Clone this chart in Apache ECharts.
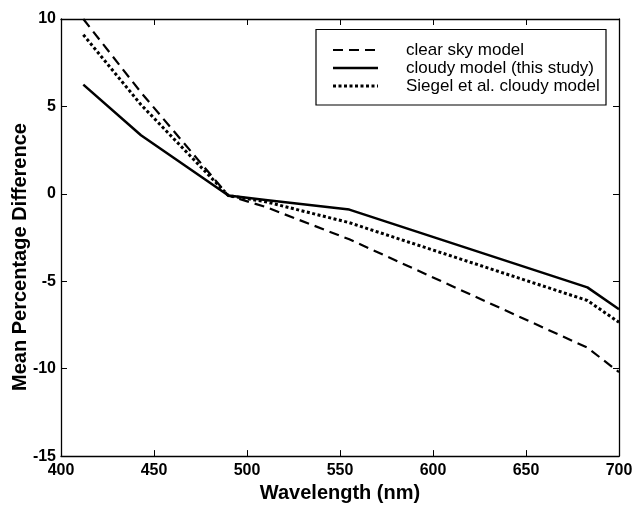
<!DOCTYPE html>
<html>
<head>
<meta charset="utf-8">
<script src="https://cdn.jsdelivr.net/npm/echarts@6/dist/echarts.min.js"></script>
<style>
  html, body { margin: 0; padding: 0; background: #fff; }
  #chart { width: 636px; height: 508px; }
</style>
</head>
<body>
<div id="chart"></div>
<script>
// Wavelength bands (nm) and mean percentage difference for each model
const wavelengths = [412, 443, 490, 510, 555, 683, 700];
const clearSky = [10.0, 5.8, -0.1, -0.75, -2.6, -8.8, -10.2];
const cloudyThisStudy = [6.25, 3.35, -0.1, -0.35, -0.9, -5.35, -6.6];
const siegelCloudy = [9.1, 5.1, -0.1, -0.45, -1.65, -6.1, -7.35];

const legendLabels = ['clear sky model', 'cloudy model (this study)', 'Siegel et al. cloudy model'];
const xTitle = 'Wavelength (nm)';
const yTitle = 'Mean Percentage Difference';

const FONT = '"Liberation Sans", Arial, Helvetica, sans-serif';
const pairs = (ys) => wavelengths.map((x, i) => [x, ys[i]]);

const chart = echarts.init(document.getElementById('chart'), null, { renderer: 'canvas' });

const boxAxis = {
  axisLine: { show: true, onZero: false, lineStyle: { color: '#000', width: 1.3 } },
  axisTick: { show: true, inside: true, length: 6, lineStyle: { color: '#000', width: 1 } },
  splitLine: { show: false }
};
const tickFont = { color: '#000', fontSize: 16, fontFamily: FONT, fontWeight: 'bold' };

const dashStyle = [10, 6];
const dotStyle = [3, 2.5];

const legendRows = [
  { y: 50, dash: dashStyle, width: 2.2 },
  { y: 68, dash: null, width: 2.5 },
  { y: 86, dash: dotStyle, width: 3 }
];

const graphics = [
  {
    type: 'rect',
    shape: { x: 316, y: 29.5, width: 290, height: 75.5 },
    style: { fill: '#fff', stroke: '#000', lineWidth: 1.2 },
    z: 100
  },
  {
    // y-axis title, rotated
    type: 'text',
    x: 20, y: 257, rotation: Math.PI / 2,
    style: {
      text: yTitle, fill: '#000', font: 'bold 20px ' + FONT,
      textAlign: 'center', textVerticalAlign: 'middle'
    },
    z: 50
  }
];
legendRows.forEach((r, i) => {
  graphics.push({
    type: 'line',
    shape: { x1: 333, y1: r.y, x2: 378, y2: r.y },
    style: { stroke: '#000', lineWidth: r.width, lineDash: r.dash || null },
    z: 101
  });
  graphics.push({
    type: 'text',
    x: 406, y: r.y,
    style: {
      text: legendLabels[i], fill: '#000',
      font: '17px ' + FONT, textVerticalAlign: 'middle', textAlign: 'left'
    },
    z: 101
  });
});

chart.setOption({
  animation: false,
  backgroundColor: '#fff',
  grid: { left: 61, right: 17, top: 19, bottom: 45, containLabel: false },
  xAxis: [
    Object.assign({
      type: 'value', min: 400, max: 700, interval: 50, position: 'bottom',
      name: xTitle, nameLocation: 'middle', nameGap: 22,
      nameTextStyle: { color: '#000', fontSize: 20, fontFamily: FONT, fontWeight: 'bold' },
      axisLabel: Object.assign({ margin: 6 }, tickFont)
    }, boxAxis),
    Object.assign({
      type: 'value', min: 400, max: 700, interval: 50, position: 'top',
      axisLabel: { show: false }
    }, boxAxis)
  ],
  yAxis: [
    Object.assign({
      type: 'value', min: -15, max: 10, interval: 5, position: 'left',
      axisLabel: Object.assign({ margin: 5 }, tickFont)
    }, boxAxis),
    Object.assign({
      type: 'value', min: -15, max: 10, interval: 5, position: 'right',
      axisLabel: { show: false }
    }, boxAxis)
  ],
  series: [
    {
      name: legendLabels[1], type: 'line', data: pairs(cloudyThisStudy),
      showSymbol: false, symbol: 'none', clip: true,
      lineStyle: { color: '#000', width: 2.5, type: 'solid' }
    },
    {
      name: legendLabels[2], type: 'line', data: pairs(siegelCloudy),
      showSymbol: false, symbol: 'none', clip: true,
      lineStyle: { color: '#000', width: 3, type: dotStyle }
    },
    {
      name: legendLabels[0], type: 'line', data: pairs(clearSky),
      showSymbol: false, symbol: 'none', clip: true,
      lineStyle: { color: '#000', width: 2.2, type: dashStyle }
    }
  ],
  graphic: graphics
});
</script>
</body>
</html>
